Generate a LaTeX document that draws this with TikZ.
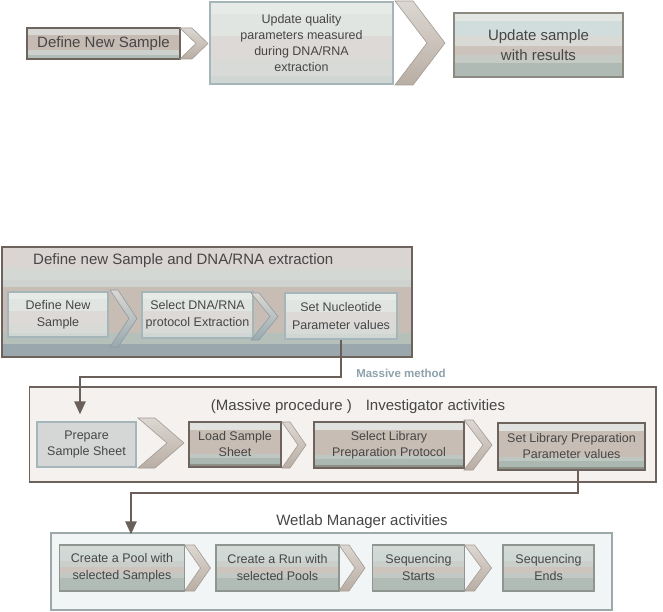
\documentclass[tikz,border=0pt]{standalone}
\usepackage{fontspec}
\setmainfont{Liberation Sans}
\usetikzlibrary{arrows.meta,calc}

% text and line colours
\definecolor{ink}{HTML}{464646}
\definecolor{wire}{HTML}{6B5F59}
\definecolor{frameDark}{HTML}{6E625C}
\definecolor{paleEdge}{HTML}{A5B6BA}
\definecolor{darkEdge}{HTML}{6E635D}
\definecolor{midEdge}{HTML}{8C8981}
\definecolor{wetEdge}{HTML}{8F9590}
\definecolor{invFill}{HTML}{F4F1EF}
\definecolor{wetFill}{HTML}{F1F5F5}
\definecolor{wetFrame}{HTML}{9DA9A8}
\definecolor{massive}{HTML}{8EA2AC}
\definecolor{prepFill}{HTML}{D5D7D7}
% band colours: pale boxes
\definecolor{pa1}{HTML}{E7EBE8}\definecolor{pa2}{HTML}{E1E5E1}\definecolor{pa3}{HTML}{DDD9D7}
\definecolor{pa4}{HTML}{D8DAD7}\definecolor{pa5}{HTML}{D0D6D3}
% band colours: first step strip
\definecolor{st1}{HTML}{DAD8D4}\definecolor{st2}{HTML}{C6BBB3}\definecolor{st3}{HTML}{CCD1CD}
\definecolor{st4}{HTML}{B3BDB8}
% band colours: result box
\definecolor{rs1}{HTML}{E3E7E3}\definecolor{rs2}{HTML}{D1DDDD}\definecolor{rs3}{HTML}{D9D9D5}
\definecolor{rs4}{HTML}{CCC4BC}\definecolor{rs5}{HTML}{C5CAC5}\definecolor{rs6}{HTML}{AFBAB5}
% band colours: investigator steps
\definecolor{dk1}{HTML}{E0E2DF}\definecolor{dk2}{HTML}{C7BDB4}\definecolor{dk3}{HTML}{BFC7C2}
\definecolor{dk4}{HTML}{ABB8B1}\definecolor{dk5}{HTML}{8E8F87}
% band colours: wetlab steps
\definecolor{wt1}{HTML}{D6DAD7}\definecolor{wt2}{HTML}{CFD8D4}\definecolor{wt3}{HTML}{CBCFCB}
\definecolor{wt4}{HTML}{CCC4BD}\definecolor{wt5}{HTML}{C2C8C3}\definecolor{wt6}{HTML}{B2BCB7}
% band colours: extraction group frame
\definecolor{gf1}{HTML}{DAD4D2}\definecolor{gf2}{HTML}{D3D8D4}\definecolor{gf3}{HTML}{CED3CF}
\definecolor{gf4}{HTML}{C8BDB5}\definecolor{gf5}{HTML}{B6C0BB}\definecolor{gf6}{HTML}{9AA8AE}
% chevron colours
\definecolor{cvT}{HTML}{DCD7D2}\definecolor{cvM}{HTML}{C8BDB4}\definecolor{cvB}{HTML}{B9AEA4}
\definecolor{cvL}{HTML}{A49B93}
\definecolor{cgB}{HTML}{98AAB1}\definecolor{cgL}{HTML}{8D9CA2}

\tikzset{
  bandbox/.style={path picture={
    \foreach \a/\b/\c in {#1}{
      \fill[\c] ($(path picture bounding box.north west)!\a!(path picture bounding box.south west)$)
        rectangle ($(path picture bounding box.north east)!\b!(path picture bounding box.south east)$);
    }}},
  palebands/.style={bandbox={0/.15/pa1,.15/.42/pa2,.42/.7/pa3,.7/.9/pa4,.9/1/pa5}},
  stripbands/.style={bandbox={0/.22/st1,.22/.72/st2,.72/.86/st3,.86/1/st4}},
  resbands/.style={bandbox={0/.12/rs1,.12/.36/rs2,.36/.52/rs3,.52/.66/rs4,.66/.78/rs5,.78/1/rs6}},
  darkbands/.style={bandbox={0/.17/dk1,.17/.72/dk2,.72/.8/dk3,.8/.93/dk4,.93/1/dk5}},
  wetbands/.style={bandbox={0/.14/wt1,.14/.34/wt2,.34/.48/wt3,.48/.6/wt4,.6/.72/wt5,.72/1/wt6}},
  groupbands/.style={bandbox={0/.19/gf1,.19/.3/gf2,.3/.36/gf3,.36/.78/gf4,.78/.88/gf5,.88/1/gf6}},
  box/.style={rectangle, inner sep=2pt, text=ink, align=center,
    font=\fontsize{12.5}{16}\selectfont},
  palebox/.style={box, draw=paleEdge, line width=1.2pt, palebands},
  darkbox/.style={box, draw=darkEdge, line width=1.5pt, darkbands},
  wetbox/.style={box, draw=wetEdge, line width=1.2pt, wetbands,
    font=\fontsize{12.5}{17}\selectfont, minimum height=46pt},
  title/.style={text=ink, inner sep=0pt, font=\fontsize{15}{18}\selectfont},
  chevA/.style={top color=cvT, middle color=cvM, bottom color=cvB, draw=cvL, line width=0.6pt},
  chevG/.style={top color=cvT, middle color=cvM, bottom color=cgB, draw=cgL, line width=0.6pt},
  wire/.style={draw=wire, line width=2.5pt, line join=miter,
    -{Triangle[width=11pt,length=13pt]}},
}

% chevron: style, left x, top y, bottom y, width, arm thickness
\newcommand{\chevshape}[6]{%
  \path[#1] (#2,#3) -- ({#2+#6},#3) -- ({#2+#5},{(#3+#4)/2}) -- ({#2+#6},#4)
    -- (#2,#4) -- ({#2+#5-#6},{(#3+#4)/2}) -- cycle;}

\begin{document}
\begin{tikzpicture}[x=1pt, y=-1pt]
\fill[white] (0,0) rectangle (663,612);
\useasboundingbox (0,0) rectangle (663,612);

% ---- overview row ----
\node[box, draw=darkEdge, line width=1.3pt, stripbands, minimum width=153pt,
  minimum height=31pt, font=\fontsize{15}{18}\selectfont] (dns) at (103.5,43.5) {Define New Sample};
\node[palebox, minimum width=183pt, minimum height=82pt] (upd) at (301.5,43)
  {Update quality\\parameters measured\\during DNA/RNA\\extraction};
\node[box, draw=midEdge, line width=1.4pt, resbands, minimum width=169pt, minimum height=64pt,
  font=\fontsize{15}{20}\selectfont] (res) at (538.5,45) {Update sample\\with results};
\chevshape{chevA}{180}{28}{59}{28}{12}
\chevshape{chevA}{395}{1}{85}{50}{18}

% ---- sample definition and extraction ----
\node[draw=frameDark, line width=1.5pt, groupbands, minimum width=410pt, minimum height=110pt,
  inner sep=0pt] (g1) at (207,302) {};
\node[title, anchor=west] (g1title) at (33,261) {Define new Sample and DNA/RNA extraction};
\node[palebox, minimum width=100pt, minimum height=45pt, font=\fontsize{12.5}{17}\selectfont]
  (gdns) at (58,314.5) {Define New\\Sample};
\node[palebox, minimum width=111pt, minimum height=46pt, font=\fontsize{12.5}{17}\selectfont]
  (gsel) at (197.5,315) {Select DNA/RNA\\protocol Extraction};
\node[palebox, minimum width=112pt, minimum height=46pt, font=\fontsize{12.5}{18}\selectfont]
  (gnuc) at (341,316) {Set Nucleotide\\Parameter values};
\chevshape{chevG}{110}{290}{347}{27}{8}
\chevshape{chevG}{251}{293}{340}{27}{8}

\node[text=massive, inner sep=0pt, font=\fontsize{11.5}{13}\selectfont\bfseries] (mlabel)
  at (401,373) {Massive method};

% ---- investigator activities ----
\node[draw=frameDark, line width=1.5pt, fill=invFill, minimum width=626.5pt, minimum height=95pt,
  inner sep=0pt] (inv) at (342.75,434.5) {};
\node[title] (invtitle) at (358,407) {(Massive procedure )\hspace{14pt}Investigator activities};
\node[box, draw=paleEdge, line width=1.2pt, fill=prepFill, minimum width=99pt, minimum height=45pt]
  (prep) at (86.5,444.5) {Prepare\\Sample Sheet};
\node[darkbox, minimum width=92pt, minimum height=45pt] (load) at (235,444.5) {Load Sample\\Sheet};
\node[darkbox, minimum width=150pt, minimum height=46pt] (sellib) at (389,445)
  {Select Library\\Preparation Protocol};
\node[darkbox, minimum width=147pt, minimum height=47pt] (setlib) at (571.5,446.5)
  {Set Library Preparation\\Parameter values};
\chevshape{chevA}{138}{418}{468}{46}{17}
\chevshape{chevA}{282}{422}{468}{24}{8}
\chevshape{chevA}{464}{420}{470}{28}{9}

% ---- wetlab manager activities ----
\node[draw=wetFrame, line width=1.2pt, fill=wetFill, minimum width=561pt, minimum height=77pt,
  inner sep=0pt] (wet) at (331.5,571.5) {};
\node[title] (wettitle) at (362,522) {Wetlab Manager activities};
\node[wetbox, minimum width=125pt] (pool) at (122,568) {Create a Pool with\\selected Samples};
\node[wetbox, minimum width=123pt] (run) at (277.5,568) {Create a Run with\\selected Pools};
\node[wetbox, minimum width=92pt] (starts) at (418.5,568) {Sequencing\\Starts};
\node[wetbox, minimum width=91pt] (ends) at (548.5,568) {Sequencing\\Ends};
\chevshape{chevA}{184.5}{545}{591}{26}{10}
\chevshape{chevA}{339}{545}{591}{26}{10}
\chevshape{chevA}{464.5}{545}{591}{27}{10}

% ---- hand-over connectors ----
\coordinate (m1) at (0,377);
\coordinate (m2) at (0,493);
\draw[wire, shorten >=7pt] (gnuc.south) -- (gnuc.south |- m1) -| ([xshift=-6.5pt]prep.north);
\draw[wire, shorten >=10pt] ([xshift=6.5pt]setlib.south) -- ([xshift=6.5pt]setlib.south |- m2)
  -| ([xshift=9pt]pool.north);
\end{tikzpicture}
\end{document}
